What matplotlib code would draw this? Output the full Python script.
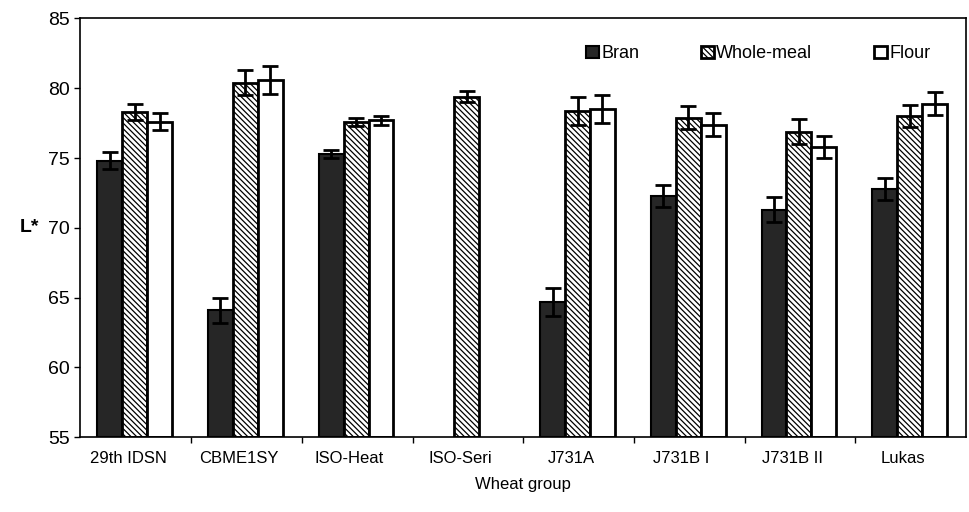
import matplotlib
matplotlib.use("Agg")
import matplotlib.pyplot as plt
import numpy as np

plt.rcParams['font.family'] = ['Liberation Sans', 'DejaVu Sans']
plt.rcParams['hatch.linewidth'] = 0.9

groups = ['29th IDSN', 'CBME1SY', 'ISO-Heat', 'ISO-Seri', 'J731A', 'J731B I', 'J731B II', 'Lukas']
bran = [74.8, 64.1, 75.3, np.nan, 64.7, 72.3, 71.3, 72.8]
bran_err = [0.6, 0.9, 0.3, np.nan, 1.0, 0.8, 0.9, 0.8]
whole = [78.3, 80.4, 77.6, 79.4, 78.4, 77.9, 76.9, 78.0]
whole_err = [0.6, 0.9, 0.3, 0.4, 1.0, 0.8, 0.9, 0.8]
flour = [77.6, 80.6, 77.7, np.nan, 78.5, 77.4, 75.8, 78.9]
flour_err = [0.6, 1.0, 0.3, np.nan, 1.0, 0.8, 0.8, 0.8]

fig = plt.figure(figsize=(9.69, 5.12), dpi=100)
ax = fig.add_axes([0.083, 0.146, 0.914, 0.818])

x = np.arange(len(groups)) + 0.49
w = 0.225
base = 55
ekw = dict(elinewidth=2, capthick=2, ecolor='black')

ax.bar(x - w, np.array(bran) - base, w, bottom=base, color='#262626', edgecolor='black',
       linewidth=1.5, yerr=bran_err, capsize=5.5, error_kw=ekw, label='Bran')
ax.bar(x, np.array(whole) - base, w, bottom=base, color='white', edgecolor='black',
       hatch='\\\\\\\\\\\\', linewidth=2, yerr=whole_err, capsize=5.5, error_kw=ekw, label='Whole-meal')
ax.bar(x + w, np.array(flour) - base, w, bottom=base, color='white', edgecolor='black',
       linewidth=2, yerr=flour_err, capsize=5.5, error_kw=ekw, label='Flour')

ax.set_ylim(55, 85)
ax.set_xlim(0, len(groups))
ax.set_yticks(range(55, 86, 5))
ax.tick_params(axis='y', labelsize=14, length=4, width=1, direction='out')
ax.set_xticks(np.arange(len(groups)) + 0.43)
ax.set_xticklabels(groups)
ax.tick_params(axis='x', which='major', length=0, labelsize=12, pad=10)
ax.set_xticks(np.arange(1, len(groups)), minor=True)
ax.tick_params(axis='x', which='minor', length=4, width=1)
for s in ax.spines.values():
    s.set_linewidth(1.2)

ax.set_xlabel('Wheat group', fontsize=12, labelpad=8)
ax.set_ylabel('L*', fontsize=14, rotation=0, fontweight='bold')
ax.yaxis.set_label_coords(-0.058, 0.48)

ax.legend(loc='upper right', bbox_to_anchor=(0.978, 0.975), ncol=3, frameon=False,
          fontsize=13, handlelength=0.7, handleheight=0.7, handletextpad=0.15,
          columnspacing=3.4)

fig.savefig('out.png', dpi=100)
